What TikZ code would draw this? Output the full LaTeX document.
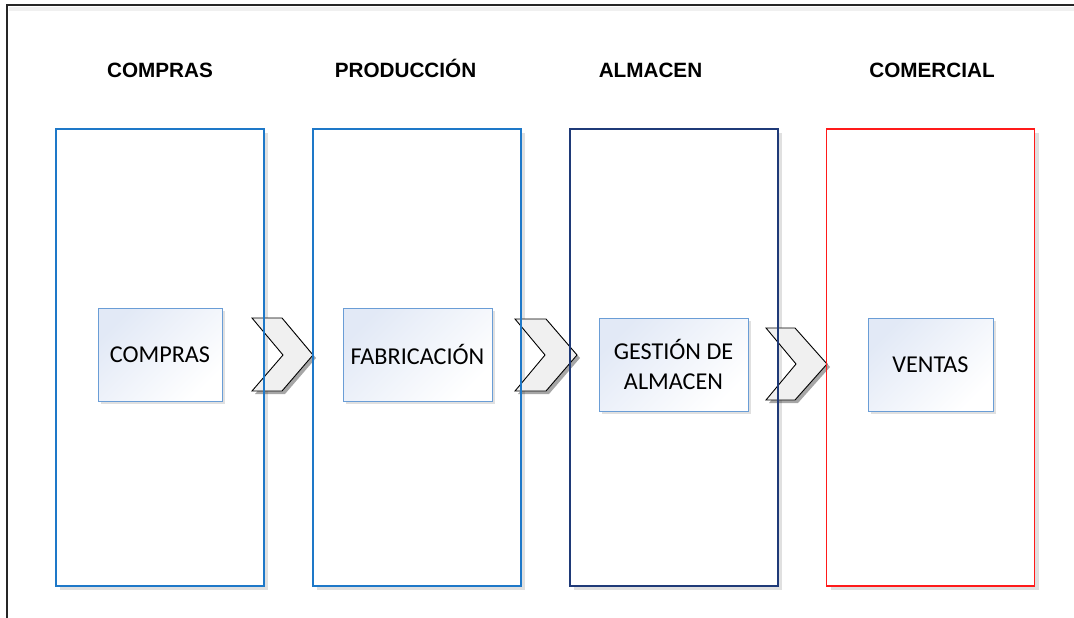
\documentclass[tikz,border=0pt]{standalone}
\usepackage{fontspec}
\setmainfont{Liberation Sans}
\newfontfamily\calib{Carlito}
\usetikzlibrary{shadows,positioning}
\definecolor{colblue}{HTML}{1E78C8}
\definecolor{colnavy}{HTML}{1F3A78}
\definecolor{colred}{HTML}{FF1A1A}
\definecolor{innerline}{HTML}{6A9DD6}
\definecolor{innertop}{HTML}{E2E9F6}
\definecolor{chevfill}{HTML}{F0F0F0}
\tikzset{
  colbox/.style={draw=#1, line width=1.1pt, fill=white, minimum width=208pt, minimum height=457pt, inner sep=0pt,
     drop shadow={shadow xshift=4pt, shadow yshift=-4pt, opacity=0.12, fill=black}},
  colline/.style={draw=#1, line width=1.1pt, minimum width=208pt, minimum height=457pt, inner sep=0pt},
  header/.style={font=\fontsize{20.7}{24}\selectfont\bfseries, inner sep=0pt, anchor=base},
  innerbox/.style={draw=innerline, line width=0.8pt, top color=innertop, bottom color=white, shading angle=45,
     minimum height=93pt, inner sep=0pt, align=center, font=\calib\fontsize{24.2}{30}\selectfont,
     drop shadow={shadow xshift=3pt, shadow yshift=-3pt, opacity=0.12, fill=black}},
  chev/.style={draw=black, line width=0.9pt, fill=chevfill, line join=miter,
     drop shadow={shadow xshift=3pt, shadow yshift=-3pt, opacity=0.35, fill=black}},
}
\begin{document}
\begin{tikzpicture}[x=1pt,y=-1pt]
\useasboundingbox (0,0) rectangle (1074,618);
% outer frame (cropped)
\fill[black,opacity=0.06] (9,7) rectangle (1074,11);
\draw[line width=1.4pt, draw=black!85] (7,618) -- (7,5) -- (1074,5);

% headers
\node[header] (hcompras) at (160,77.5) {COMPRAS};
\node[header] (hprod) at (405.5,77.5) {PRODUCCIÓN};
\node[header] (halm) at (650.5,77.5) {ALMACEN};
\node[header] (hcom) at (932,77.5) {COMERCIAL};

% columns (fill + shadow)
\node[colbox=colblue] (c1) at (160,357.5) {};
\node[colbox=colblue] (c2) at (417,357.5) {};
\node[colbox=colnavy] (c3) at (674,357.5) {};
\node[colbox=colred] (c4) at (930.5,357.5) {};

% chevrons
\draw[chev] (252,318) -- (282,318) -- (313,355) -- (282,391) -- (252,391) -- (283,355) -- cycle;
\draw[chev] (515,319) -- (546,319) -- (577,355) -- (546,391) -- (515,391) -- (545,355) -- cycle;
\draw[chev] (766,328) -- (795,328) -- (827,364) -- (795,400) -- (766,400) -- (796,364) -- cycle;

% column borders on top
\node[colline=colblue] at (c1.center) {};
\node[colline=colblue] at (c2.center) {};
\node[colline=colnavy] at (c3.center) {};
\node[colline=colred] at (c4.center) {};

% inner boxes
\node[innerbox, minimum width=124pt] (b1) at (160,354.5) {COMPRAS};
\node[innerbox, minimum width=149pt] (b2) at (417.5,354.5) {FABRICACIÓN};
\node[innerbox, minimum width=149pt] (b3) at (673.5,364.5) {GESTIÓN DE\\ALMACEN};
\node[innerbox, minimum width=125pt] (b4) at (930.5,364.5) {VENTAS};
\end{tikzpicture}
\end{document}
